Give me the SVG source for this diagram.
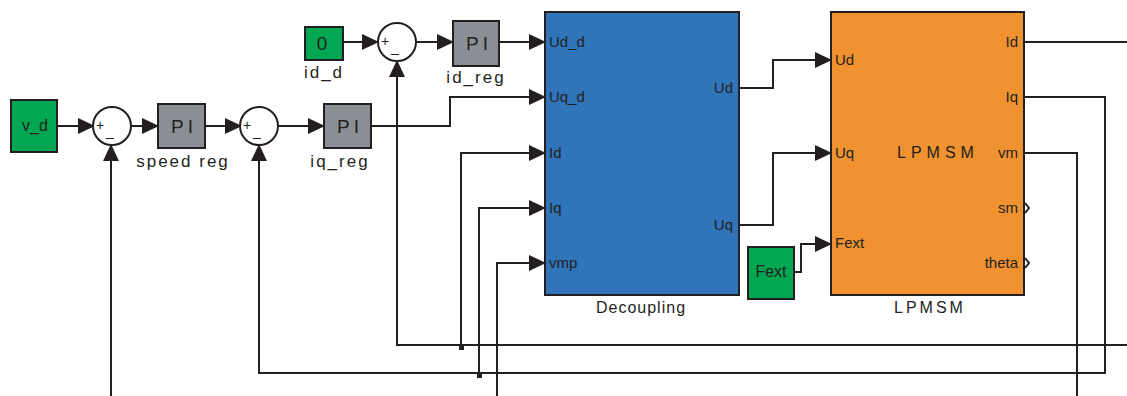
<svg xmlns="http://www.w3.org/2000/svg" width="1127" height="396" viewBox="0 0 1127 396">
<defs>
<marker id="ah" markerUnits="userSpaceOnUse" markerWidth="17" markerHeight="16" refX="16" refY="8" orient="auto">
<path d="M0,0 L17,8 L0,16 z" fill="#231f20"/>
</marker>
<style>
.blk{stroke:#231f20;stroke-width:2}
.g{fill:#00a651}
.pi{fill:#8a8f95}
.sum{fill:#fff;stroke:#231f20;stroke-width:2}
.w{fill:none;stroke:#231f20;stroke-width:2}
.a{marker-end:url(#ah)}
text{font-family:"Liberation Sans",Arial,sans-serif;fill:#231f20}
.t{font-size:16px}
.lbl{font-size:17px;letter-spacing:2px;text-anchor:middle}
.pit{font-size:19px;letter-spacing:4px;text-anchor:middle}
.s{font-size:14px}
.p{font-size:15px}
.r{text-anchor:end}
.m{text-anchor:middle}
</style>
</defs>
<g id="connectors">
<path class="w a" d="M57,126 H94"/>
<path class="w a" d="M131,126 H158"/>
<path class="w a" d="M205,126 H241"/>
<path class="w a" d="M278,126 H324"/>
<path class="w a" d="M371,126 H450 V97 H545"/>
<path class="w a" d="M343,42 H378"/>
<path class="w a" d="M416,42 H453"/>
<path class="w a" d="M499,42 H545"/>
<path class="w a" d="M739,88 H773 V60 H831"/>
<path class="w a" d="M739,225 H773 V153 H831"/>
<path class="w a" d="M794,272 H801 V244 H831"/>
<path class="w" d="M1024,42 H1127"/>
<path class="w a" d="M1024,97 H1105 V373 H259 V145"/>
<path class="w a" d="M1127,345 H397 V61"/>
<path class="w a" d="M461,345 V153 H545"/>
<path class="w a" d="M479,373 V208 H545"/>
<path class="w a" d="M497,396 V263 H545"/>
<path class="w" d="M1024,153 H1077 V396"/>
<path class="w a" d="M111,396 V145"/>
<rect x="459" y="345" width="5" height="5" fill="#231f20"/>
<rect x="477" y="373" width="5" height="5" fill="#231f20"/>
<path class="w" d="M1025,203 L1029,208 L1025,213"/>
<path class="w" d="M1025,258 L1029,263 L1025,268"/>
</g>
<g id="v_d">
<rect class="blk g" x="11" y="100" width="46" height="52"/>
<text class="t m" x="35" y="131">v_d</text>
</g>
<g id="sum1">
<circle class="sum" cx="112" cy="126" r="19"/>
<text class="s" x="96" y="130">+</text>
<text class="s" x="106" y="136">_</text>
</g>
<g id="speed_reg">
<rect class="blk pi" x="158" y="104" width="47" height="44"/>
<text class="pit" x="184" y="133">PI</text>
<text class="lbl" x="183" y="167">speed reg</text>
</g>
<g id="sum2">
<circle class="sum" cx="259" cy="126" r="19"/>
<text class="s" x="243" y="130">+</text>
<text class="s" x="253" y="136">_</text>
</g>
<g id="iq_reg">
<rect class="blk pi" x="324" y="104" width="47" height="44"/>
<text class="pit" x="350" y="133">PI</text>
<text class="lbl" x="340" y="167">iq_reg</text>
</g>
<g id="id_d">
<rect class="blk g" x="305" y="27" width="38" height="33"/>
<text class="m" x="322" y="50" style="font-size:19px">0</text>
<text class="lbl" x="324" y="78">id_d</text>
</g>
<g id="sum3">
<circle class="sum" cx="397" cy="42" r="19"/>
<text class="s" x="381" y="46">+</text>
<text class="s" x="391" y="52">_</text>
</g>
<g id="id_reg">
<rect class="blk pi" x="453" y="21" width="46" height="45"/>
<text class="pit" x="479" y="50">PI</text>
<text class="lbl" x="476" y="83">id_reg</text>
</g>
<g id="Decoupling">
<rect class="blk" fill="#3074b9" x="545" y="12" width="194" height="283"/>
<text class="p" x="549" y="47">Ud_d</text>
<text class="p" x="549" y="102">Uq_d</text>
<text class="p" x="549" y="158">Id</text>
<text class="p" x="549" y="213">Iq</text>
<text class="p" x="549" y="268">vmp</text>
<text class="p r" x="733" y="93">Ud</text>
<text class="p r" x="733" y="230">Uq</text>
<text class="lbl" x="641" y="313" style="font-size:16px;letter-spacing:1px">Decoupling</text>
</g>
<g id="Fext">
<rect class="blk g" x="748" y="247" width="46" height="52"/>
<text class="t m" x="771" y="277">Fext</text>
</g>
<g id="LPMSM">
<rect class="blk" fill="#f0922f" x="831" y="12" width="193" height="283"/>
<text class="p" x="835" y="65">Ud</text>
<text class="p" x="835" y="158">Uq</text>
<text class="p" x="835" y="248">Fext</text>
<text class="p r" x="1018" y="47">Id</text>
<text class="p r" x="1018" y="102">Iq</text>
<text class="p r" x="1018" y="158">vm</text>
<text class="p r" x="1018" y="213">sm</text>
<text class="p r" x="1018" y="268">theta</text>
<text class="lbl" x="938" y="158" style="font-size:16px;letter-spacing:5px">LPMSM</text>
<text class="lbl" x="930" y="313" style="font-size:16px;letter-spacing:3px">LPMSM</text>
</g>
</svg>
